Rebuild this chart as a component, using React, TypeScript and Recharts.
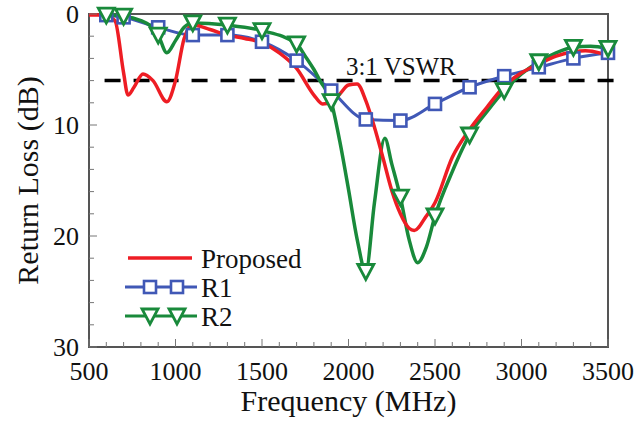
import { Label, Legend, Line, LineChart, ReferenceArea, ReferenceDot, ReferenceLine, XAxis, YAxis } from 'recharts'

const serif = "'Liberation Serif', 'DejaVu Serif', 'Times New Roman', Times, serif"

// Proposed antenna (no markers, dense trace)
const proposedFreq = [500, 550, 600, 650, 700, 725, 760, 812, 870, 950, 1000, 1050, 1100, 1200, 1300, 1400, 1500, 1600, 1700, 1800, 1850, 1900, 1950, 2000, 2050, 2100, 2150, 2200, 2250, 2300, 2350, 2380, 2450, 2500, 2600, 2700, 2800, 2900, 3000, 3100, 3200, 3300, 3370, 3450, 3500]
const proposedLoss = [0.1, 0.1, 0.2, 0.6, 5.3, 7.3, 6.6, 5.4, 6.0, 7.9, 6.0, 2.2, 1.0, 1.4, 1.9, 2.2, 2.6, 3.5, 4.9, 7.3, 8.1, 8.0, 7.2, 6.4, 6.3, 7.8, 10.2, 13.0, 15.9, 18.0, 19.3, 19.5, 18.2, 17.0, 12.9, 10.4, 8.4, 6.5, 5.3, 4.5, 3.8, 3.4, 3.3, 3.5, 3.8]

// R1 (square markers on every point)
const r1Freq = [600, 700, 900, 1100, 1300, 1500, 1700, 1900, 2100, 2300, 2500, 2700, 2900, 3100, 3300, 3500]
const r1Loss = [0.1, 0.3, 1.2, 1.9, 1.9, 2.5, 4.2, 6.9, 9.5, 9.6, 8.1, 6.6, 5.6, 4.8, 4.0, 3.5]

// R2 (triangle markers on a subset)
const r2Freq = [600, 700, 800, 850, 900, 950, 1000, 1050, 1100, 1300, 1500, 1700, 1750, 1800, 1835, 1900, 1950, 2000, 2050, 2100, 2150, 2210, 2250, 2300, 2350, 2400, 2450, 2500, 2600, 2700, 2800, 2900, 3000, 3100, 3200, 3300, 3400, 3500]
const r2Loss = [0.1, 0.2, 0.6, 1.0, 1.9, 3.5, 2.4, 1.2, 0.8, 1.0, 1.5, 2.7, 3.8, 5.0, 6.0, 7.9, 11.5, 15.8, 20.3, 23.2, 17.0, 11.2, 13.5, 16.5, 20.3, 22.4, 21.0, 18.2, 14.2, 10.9, 8.8, 6.9, 5.4, 4.3, 3.5, 3.0, 2.9, 3.1]
const r2Markers = [600, 700, 900, 1100, 1300, 1500, 1700, 1900, 2100, 2300, 2500, 2700, 2900, 3100, 3300, 3500]

const xTicks = Array.from({ length: 31 }, (_, i) => 500 + i * 100)
const yTicks = Array.from({ length: 16 }, (_, i) => i * 2)

const vswrLevel = 6

const RED = '#ee1d24'
const BLUE = '#4058b6'
const GREEN = '#198a3b'

const proposed = proposedFreq.map((f, i) => ({ f, v: proposedLoss[i] }))
const r1 = r1Freq.map((f, i) => ({ f, v: r1Loss[i] }))
const r2 = r2Freq.map((f, i) => ({ f, v: r2Loss[i] }))

const textStyle = { fontFamily: serif, fill: '#111' }

function Square({ cx, cy, color }: { cx: number; cy: number; color: string }) {
  return <rect x={cx - 6} y={cy - 6} width={12} height={12} fill="#fff" stroke={color} strokeWidth={2.6} />
}

function Triangle({ cx, cy, color }: { cx: number; cy: number; color: string }) {
  return (
    <path
      d={`M${cx - 8},${cy - 7} L${cx + 8},${cy - 7} L${cx},${cy + 8} Z`}
      fill="#fff"
      stroke={color}
      strokeWidth={2.8}
    />
  )
}

function XTick({ x, y, payload }: any) {
  const major = payload.value % 500 === 0
  return (
    <g>
      <line x1={x} x2={x} y1={y} y2={y - (major ? 8 : 5)} stroke="#777" strokeWidth={1} />
      {major && (
        <text x={x} y={y + 33} textAnchor="middle" fontSize={26} style={textStyle}>
          {payload.value}
        </text>
      )}
    </g>
  )
}

function YTick({ x, y, payload }: any) {
  const major = payload.value % 10 === 0
  return (
    <g>
      <line x1={x} x2={x + (major ? 8 : 5)} y1={y} y2={y} stroke="#777" strokeWidth={1} />
      {major && (
        <text x={x - 10} y={y} dy="0.36em" textAnchor="end" fontSize={26} style={textStyle}>
          {payload.value}
        </text>
      )}
    </g>
  )
}

const legendItems = [
  { name: 'Proposed', color: RED, marker: null },
  { name: 'R1', color: BLUE, marker: 'square' },
  { name: 'R2', color: GREEN, marker: 'triangle' },
]

function LegendBox() {
  return (
    <svg width={200} height={92}>
      {legendItems.map((item, i) => {
        const cy = 16 + i * 29
        return (
          <g key={item.name}>
            {item.marker ? (
              <line x1={5} x2={77} y1={cy} y2={cy} stroke={item.color} strokeWidth={3} />
            ) : (
              <line x1={8} x2={72} y1={cy} y2={cy} stroke={item.color} strokeWidth={3.5} />
            )}
            {item.marker === 'square' && [30, 57].map((mx) => <Square key={mx} cx={mx} cy={cy} color={item.color} />)}
            {item.marker === 'triangle' && [30, 57].map((mx) => <Triangle key={mx} cx={mx} cy={cy} color={item.color} />)}
            <text x={81} y={cy} dy="0.36em" fontSize={27} style={textStyle}>
              {item.name}
            </text>
          </g>
        )
      })}
    </svg>
  )
}

export default function App() {
  return (
    <div style={{ width: 639, height: 423, background: '#fff', fontFamily: serif }}>
      <style>{'body{margin:0}'}</style>
      <LineChart width={639} height={423} margin={{ top: 14, right: 31, bottom: 0, left: 0 }} style={{ fontFamily: serif }}>
        <XAxis
          dataKey="f"
          type="number"
          domain={[500, 3500]}
          ticks={xTicks}
          interval={0}
          height={76}
          tickSize={0}
          tickMargin={0}
          tickLine={false}
          axisLine={false}
          tick={<XTick />}
        >
          <Label
            content={({ viewBox }: any) => (
              <text
                x={viewBox.x + viewBox.width / 2}
                y={viewBox.y + viewBox.height - 12}
                textAnchor="middle"
                fontSize={30}
                style={textStyle}
              >
                Frequency (MHz)
              </text>
            )}
          />
        </XAxis>
        <YAxis
          type="number"
          domain={[0, 30]}
          reversed
          ticks={yTicks}
          interval={0}
          width={89}
          tickSize={0}
          tickMargin={0}
          tickLine={false}
          axisLine={false}
          tick={<YTick />}
        >
          <Label
            content={({ viewBox }: any) => {
              const cx = 38
              const cy = viewBox.y + viewBox.height / 2
              return (
                <text
                  x={cx}
                  y={cy}
                  transform={`rotate(-90 ${cx} ${cy})`}
                  textAnchor="middle"
                  fontSize={30}
                  style={textStyle}
                >
                  Return Loss (dB)
                </text>
              )
            }}
          />
        </YAxis>
        <ReferenceArea x1={500} x2={3500} y1={0} y2={30} fill="none" stroke="#555" strokeWidth={2} ifOverflow="visible" />
        <ReferenceLine
          segment={[{ x: 590, y: vswrLevel }, { x: 3550, y: vswrLevel }]}
          stroke="#000"
          strokeWidth={3.5}
          strokeDasharray="16 13"
          ifOverflow="visible"
        />
        <ReferenceDot
          x={2303}
          y={vswrLevel}
          r={0}
          fill="none"
          stroke="none"
          label={{ value: '3:1 VSWR', position: 'top', offset: 6, fontSize: 25, style: textStyle }}
        />
        <Line
          data={r1}
          dataKey="v"
          name="R1"
          type="monotone"
          stroke={BLUE}
          strokeWidth={3}
          isAnimationActive={false}
          dot={(p: any) => <Square key={`r1-${p.index}`} cx={p.cx} cy={p.cy} color={BLUE} />}
          activeDot={false}
        />
        <Line
          data={r2}
          dataKey="v"
          name="R2"
          type="monotone"
          stroke={GREEN}
          strokeWidth={3.5}
          isAnimationActive={false}
          dot={(p: any) =>
            r2Markers.includes(p.payload.f) ? (
              <Triangle key={`r2-${p.index}`} cx={p.cx} cy={p.cy} color={GREEN} />
            ) : (
              <g key={`r2-${p.index}`} />
            )
          }
          activeDot={false}
        />
        <Line
          data={proposed}
          dataKey="v"
          name="Proposed"
          type="monotone"
          stroke={RED}
          strokeWidth={3.5}
          isAnimationActive={false}
          dot={false}
          activeDot={false}
        />
        <Legend
          layout="vertical"
          align="center"
          verticalAlign="middle"
          content={() => <LegendBox />}
          wrapperStyle={{ left: 120, top: 242, width: 200, height: 92 }}
        />
      </LineChart>
    </div>
  )
}
